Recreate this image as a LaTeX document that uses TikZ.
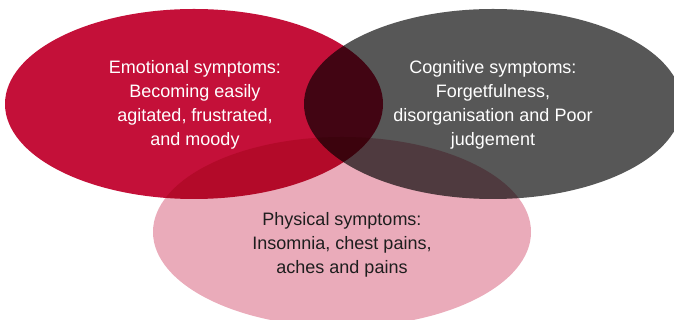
\documentclass[tikz,border=0pt]{standalone}
\usepackage{fontspec}
\setmainfont{Liberation Sans}
\usepackage{tikz}
\usetikzlibrary{shapes.geometric, positioning}
\usepackage{xcolor}
\definecolor{emored}{HTML}{C41039}
\definecolor{coggray}{HTML}{575757}
\definecolor{physpink}{HTML}{EAABBA}
\definecolor{phystext}{HTML}{1E1E1E}

\begin{document}
\begin{tikzpicture}[x=1pt, y=1pt]
    \tikzstyle{blob} = [ellipse, minimum width=378pt, minimum height=190pt, inner sep=0pt]
    \tikzstyle{caption} = [align=center, font=\fontsize{18}{24}\selectfont]
    \useasboundingbox (0,0) rectangle (674,320);
    \begin{scope}[blend group=multiply]
        \node [blob, fill=emored] at (194,216) (emo) {};
        \node [blob, fill=coggray] at (493,216) (cog) {};
        \node [blob, fill=physpink] at (342,88) (phys) {};
    \end{scope}
    \node [caption, text=white] at ([xshift=1pt, yshift=-1pt]emo.center) (emotext)
        {Emotional symptoms:\\Becoming easily\\agitated, frustrated,\\and moody};
    \node [caption, text=white] at ([yshift=-1pt]cog.center) (cogtext)
        {Cognitive symptoms:\\Forgetfulness,\\disorganisation and Poor\\judgement};
    \node [caption, text=phystext] at ([yshift=-13pt]phys.center) (phystext)
        {Physical symptoms:\\Insomnia, chest pains,\\aches and pains};
\end{tikzpicture}
\end{document}
